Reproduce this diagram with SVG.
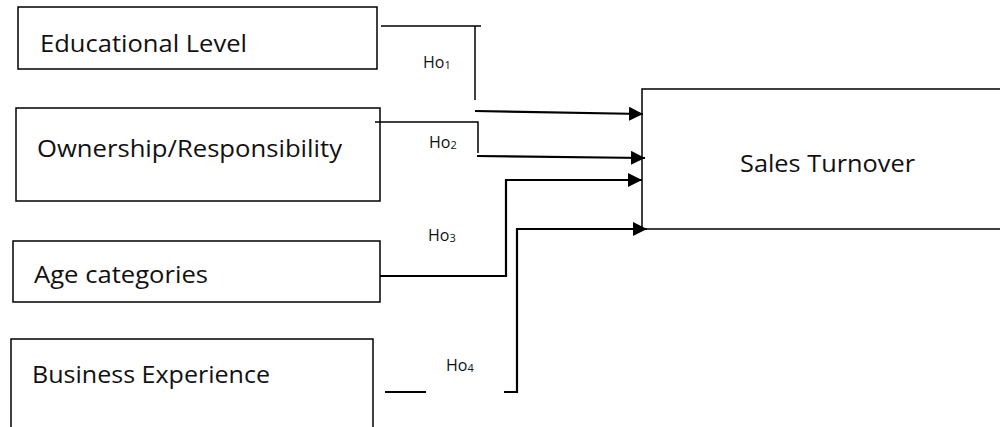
<svg xmlns="http://www.w3.org/2000/svg" width="1000" height="427" viewBox="0 0 1000 427">
<style>
.box{fill:#fff;stroke:#000;stroke-width:1.5}
.lbl{font-family:"Open Sans","Liberation Sans",Arial,sans-serif;font-size:23px;fill:#111}
.ho{font-family:"Open Sans","Liberation Sans",Arial,sans-serif;font-size:16px;fill:#111}
.ln{fill:none;stroke:#000;stroke-width:1.5}
.ar{fill:none;stroke:#000;stroke-width:2.2;marker-end:url(#ah)}
</style>
<defs>
<marker id="ah" markerUnits="userSpaceOnUse" markerWidth="14" markerHeight="14" refX="14" refY="7" orient="auto">
<path d="M0,0 L14,7 L0,14 Z" fill="#000"/>
</marker>
</defs>
<rect width="1000" height="427" fill="#fff"/>
<g id="educational-level">
<rect class="box" x="18" y="7" width="359" height="62"/>
<text class="lbl" x="40" y="52" textLength="207" lengthAdjust="spacingAndGlyphs">Educational Level</text>
</g>
<g id="ownership">
<rect class="box" x="16" y="108" width="364" height="93"/>
<text class="lbl" x="37" y="157" textLength="305" lengthAdjust="spacingAndGlyphs">Ownership/Responsibility</text>
</g>
<g id="age-categories">
<rect class="box" x="13" y="241" width="367" height="61"/>
<text class="lbl" x="34" y="283" textLength="174" lengthAdjust="spacingAndGlyphs">Age categories</text>
</g>
<g id="business-experience">
<rect class="box" x="11" y="339" width="362" height="90"/>
<text class="lbl" x="32" y="383" textLength="238" lengthAdjust="spacingAndGlyphs">Business Experience</text>
</g>
<g id="sales-turnover">
<rect class="box" x="642" y="89" width="362" height="140"/>
<text class="lbl" x="740" y="172" textLength="175" lengthAdjust="spacingAndGlyphs">Sales Turnover</text>
</g>
<g id="connectors">
<path class="ln" d="M381,26 H481 M475,26 V100"/>
<path class="ar" d="M475,111 L643,114"/>
<path class="ln" d="M375,122 H478 V153"/>
<path class="ar" d="M477,156 L645,158"/>
<path class="ar" d="M380,276 H506 V180 H642"/>
<path class="ln" style="stroke-width:2.2" d="M385,392 H426"/>
<path class="ar" d="M504,392 H517 V229 H647"/>
</g>
<g id="labels">
<text class="ho" x="423" y="68">Ho<tspan font-size="11" dy="1">1</tspan></text>
<text class="ho" x="429" y="148">Ho<tspan font-size="11" dy="1">2</tspan></text>
<text class="ho" x="428" y="241">Ho<tspan font-size="11" dy="1">3</tspan></text>
<text class="ho" x="446" y="371">Ho<tspan font-size="11" dy="1">4</tspan></text>
</g>
</svg>
